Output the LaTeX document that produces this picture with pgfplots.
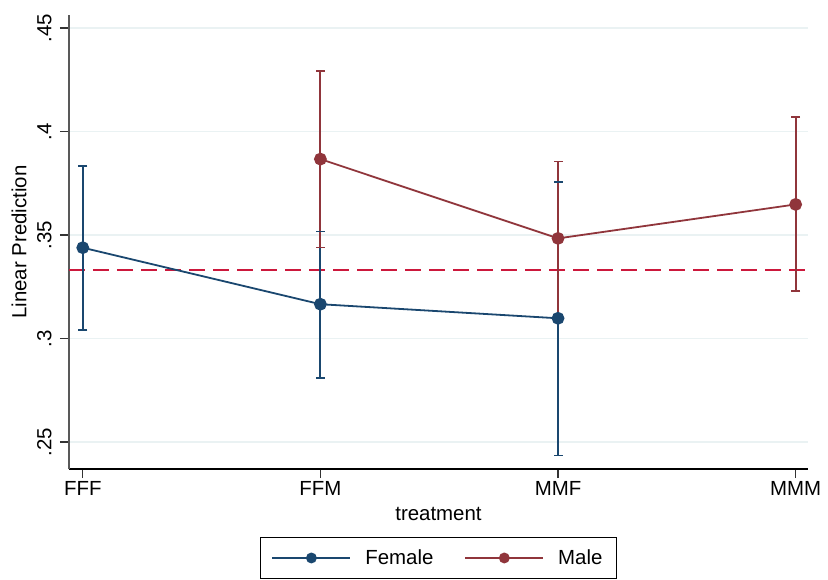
\documentclass[border=0pt]{standalone}
\usepackage{fontspec}
\setmainfont{Liberation Sans}
\usepackage{pgfplots}
\pgfplotsset{compat=1.18}
\definecolor{stnavy}{RGB}{26,71,111}
\definecolor{stmaroon}{RGB}{144,53,59}
\definecolor{refred}{RGB}{204,24,60}
\definecolor{gridc}{RGB}{234,242,243}
\pgfplotsset{
  ciF/.style={stnavy, line width=2bp, mark=-, mark size=4.5bp, mark options={solid, draw=stnavy, line width=1.6bp}, forget plot},
  ciM/.style={stmaroon, line width=2bp, mark=-, mark size=4.5bp, mark options={solid, draw=stmaroon, line width=1.6bp}, forget plot},
}
\begin{document}
\begin{tikzpicture}
\useasboundingbox (-69bp,-111bp) rectangle (759bp,469bp);
\begin{axis}[
  at={(0,0)}, anchor=south west,
  scale only axis, width=739bp, height=454bp,
  xmin=-0.058, xmax=3.052, ymin=0.237, ymax=0.4563,
  axis x line*=bottom, axis y line*=left,
  x axis line style={black, line width=1.3bp},
  y axis line style={black!65, line width=1.6bp},
  xtick={0,1,2,3}, xticklabels={FFF,FFM,MMF,MMM},
  ytick={0.25,0.3,0.35,0.4,0.45}, yticklabels={.25,.3,.35,.4,.45},
  tick align=outside, major tick length=9bp,
  tick style={black!80, line width=1.2bp},
  ymajorgrids, grid style={gridc, line width=1.5bp},
  font=\fontsize{20.5}{24}\selectfont,
  tick label style={font=\fontsize{20.5}{24}\selectfont},
  yticklabel style={rotate=90, anchor=south},
  yticklabel shift=5bp,
  xticklabel style={anchor=north},
  ylabel={Linear Prediction},
  ylabel style={at={(axis description cs:-0.0677,0.5)}, anchor=center},
  xlabel={treatment},
  xlabel style={at={(axis description cs:0.5,-0.099)}, anchor=center},
  legend columns=2,
  legend style={at={(axis description cs:0.5,-0.196)}, anchor=center,
    draw=black, line width=1bp, font=\fontsize{20.5}{24}\selectfont,
    inner xsep=11bp, inner ysep=9bp, nodes={inner sep=3bp},
    /tikz/every odd column/.append style={column sep=11bp},
    /tikz/every even column/.append style={column sep=28bp}},
  legend image code/.code={\draw[mark repeat=2, mark phase=2, mark size=4.5bp]
    plot coordinates {(0bp,0bp) (39bp,0bp) (78bp,0bp)};},
]
% reference line
\addplot[refred, line width=2bp, dash pattern=on 16bp off 8bp, forget plot]
  coordinates {(-0.058,0.3333) (3.052,0.3333)};
% confidence intervals: Female
\addplot[ciF] coordinates {(0,0.3040) (0,0.3834)};
\addplot[ciF] coordinates {(1,0.2811) (1,0.3518)};
\addplot[ciF] coordinates {(2,0.2435) (2,0.3756)};
% confidence intervals: Male
\addplot[ciM] coordinates {(1,0.3439) (1,0.4293)};
\addplot[ciM] coordinates {(2,0.3112) (2,0.3856)};
\addplot[ciM] coordinates {(3,0.3230) (3,0.4071)};
% predictions
\addplot[stnavy, line width=1.8bp, mark=*, mark size=5.5bp, mark options={fill=stnavy, draw=stnavy}]
  coordinates {(0,0.3439) (1,0.3166) (2,0.3098)};
\addlegendentry{Female}
\addplot[stmaroon, line width=1.8bp, mark=*, mark size=5.5bp, mark options={fill=stmaroon, draw=stmaroon}]
  coordinates {(1,0.3867) (2,0.3484) (3,0.3648)};
\addlegendentry{Male}
\end{axis}
\end{tikzpicture}
\end{document}
